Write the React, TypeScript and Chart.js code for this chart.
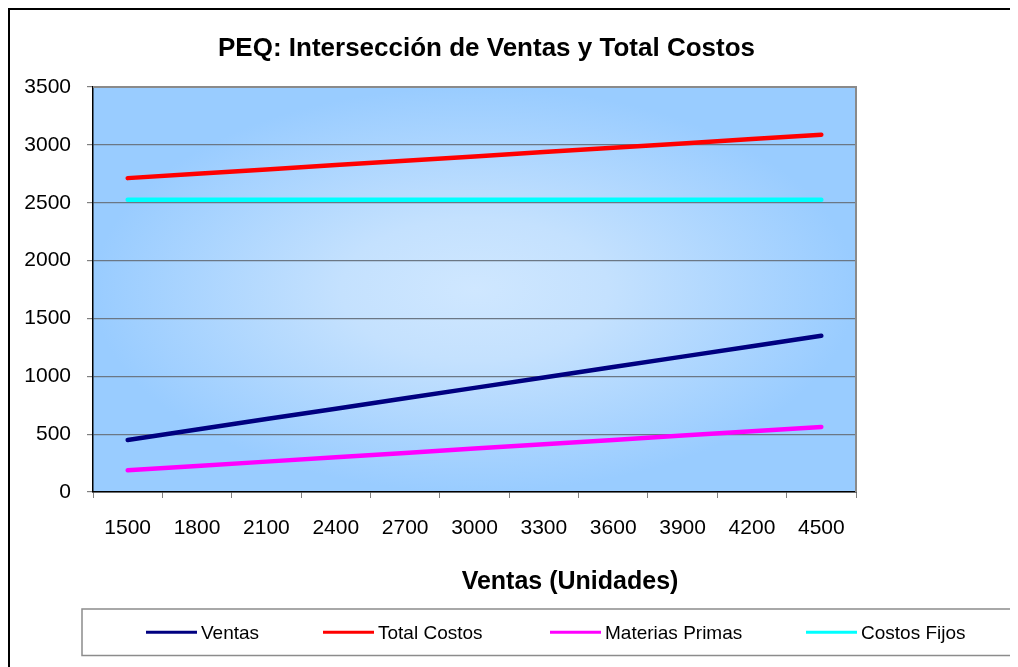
import React, { useEffect, useRef } from "react";
import { Chart, registerables } from "chart.js";

Chart.register(...registerables);

const categories = ["1500", "1800", "2100", "2400", "2700", "3000", "3300", "3600", "3900", "4200", "4500"];
const ventas = [450, 540, 630, 720, 810, 900, 990, 1080, 1170, 1260, 1350];
const totalCostos = [2712.5, 2750, 2787.5, 2825, 2862.5, 2900, 2937.5, 2975, 3012.5, 3050, 3087.5];
const materiasPrimas = [187.5, 225, 262.5, 300, 337.5, 375, 412.5, 450, 487.5, 525, 562.5];
const costosFijos = [2525, 2525, 2525, 2525, 2525, 2525, 2525, 2525, 2525, 2525, 2525];
const yTicks = [0, 500, 1000, 1500, 2000, 2500, 3000, 3500];

const chartTitle = "PEQ: Intersección de Ventas y Total Costos";
const xAxisTitle = "Ventas (Unidades)";

const FONT = "'Liberation Sans', Arial, sans-serif";

const decorPlugin = {
  id: "decor",
  beforeDraw(chart: any) {
    const { ctx, chartArea: a } = chart;
    const w = a.right - a.left;
    const h = a.bottom - a.top;
    const cx = (a.left + a.right) / 2;
    const cy = (a.top + a.bottom) / 2;
    ctx.save();
    ctx.translate(cx, cy);
    ctx.scale(w / 2, h / 2);
    const g = ctx.createRadialGradient(0, 0, 0, 0, 0, 1);
    g.addColorStop(0, "#cfe7ff");
    g.addColorStop(0.35, "#c4e1fe");
    g.addColorStop(1, "#99ccff");
    ctx.fillStyle = g;
    ctx.fillRect(-1, -1, 2, 2);
    ctx.restore();
  },
  afterDraw(chart: any) {
    const { ctx, chartArea: a, width } = chart;
    ctx.save();
    // plot border top/right
    ctx.strokeStyle = "#8a8a8a";
    ctx.lineWidth = 2;
    ctx.beginPath();
    ctx.moveTo(a.left, a.top);
    ctx.lineTo(a.right, a.top);
    ctx.lineTo(a.right, a.bottom);
    ctx.stroke();

    // title
    ctx.fillStyle = "#000";
    ctx.textAlign = "center";
    ctx.textBaseline = "alphabetic";
    ctx.font = `bold 26px ${FONT}`;
    ctx.fillText(chartTitle, 476.5, 45.5);

    // axis title
    ctx.font = `bold 25px ${FONT}`;
    ctx.fillText(xAxisTitle, 560, 579);

    // legend box
    ctx.strokeStyle = "#8c8c8c";
    ctx.lineWidth = 1.5;
    ctx.strokeRect(72, 599, width + 20, 46.5);

    const starts = [136, 313, 540, 796];
    ctx.font = `19px ${FONT}`;
    ctx.textAlign = "left";
    chart.data.datasets.forEach((ds: any, i: number) => {
      const x = starts[i];
      ctx.strokeStyle = ds.borderColor;
      ctx.lineWidth = 3;
      ctx.beginPath();
      ctx.moveTo(x, 622.3);
      ctx.lineTo(x + 51, 622.3);
      ctx.stroke();
      ctx.fillStyle = "#000";
      ctx.fillText(ds.label, x + 55, 629.3);
    });
    ctx.restore();
  },
};

export default function App() {
  const ref = useRef<HTMLCanvasElement | null>(null);

  useEffect(() => {
    document.documentElement.style.overflow = "hidden";
    document.body.style.overflow = "hidden";
    const canvas = ref.current;
    if (!canvas) return;
    const mk = (label: string, data: number[], color: string) => ({
      label,
      data,
      borderColor: color,
      backgroundColor: color,
      borderWidth: 4.5,
      pointRadius: 0,
      pointHoverRadius: 0,
      tension: 0,
      borderCapStyle: "round",
      borderJoinStyle: "round",
      fill: false,
    });
    const chart = new Chart(canvas, {
      type: "line",
      data: {
        labels: categories,
        datasets: [
          mk("Ventas", ventas, "#000080"),
          mk("Total Costos", totalCostos, "#ff0000"),
          mk("Materias Primas", materiasPrimas, "#ff00ff"),
          mk("Costos Fijos", costosFijos, "#00ffff"),
        ] as any,
      },
      options: {
        responsive: false,
        animation: false,
        events: [],
        layout: { padding: { top: 77, right: 162, left: 3, bottom: 115 } },
        plugins: {
          legend: { display: false },
          title: { display: false },
          tooltip: { enabled: false },
        },
        scales: {
          x: {
            type: "category",
            offset: true,
            afterFit: (s: any) => {
              s.height = 60;
            },
            grid: {
              offset: true,
              drawOnChartArea: false,
              drawTicks: true,
              tickLength: 6,
              tickColor: "#808080",
              color: "#808080",
            },
            border: { display: true, color: "#000", width: 1.5 },
            ticks: {
              color: "#000",
              font: { family: FONT, size: 21 },
              padding: 18,
              maxRotation: 0,
              autoSkip: false,
            },
          },
          y: {
            min: 0,
            max: 3500,
            afterFit: (s: any) => {
              s.width = 80;
            },
            afterBuildTicks: (s: any) => {
              s.ticks = yTicks.map((v) => ({ value: v }));
            },
            grid: {
              color: "#6b7785",
              lineWidth: 1.2,
              tickLength: 6,
              tickColor: "#808080",
            },
            border: { display: true, color: "#000", width: 1.5 },
            ticks: {
              color: "#000",
              font: { family: FONT, size: 21 },
              padding: 16,
              callback: (v: any) => String(v),
            },
          },
        },
      },
      plugins: [decorPlugin],
    });
    return () => chart.destroy();
  }, []);

  return (
    <div
      style={{
        width: 1010,
        height: 659,
        boxSizing: "border-box",
        borderLeft: "2px solid #000",
        borderTop: "2px solid #000",
        overflow: "hidden",
      }}
    >
      <canvas ref={ref} width={1008} height={657} style={{ display: "block" }} />
    </div>
  );
}
